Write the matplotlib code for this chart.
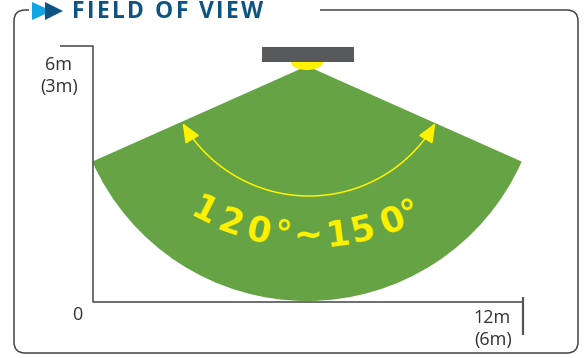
import numpy as np
import matplotlib
matplotlib.use("Agg")
import matplotlib.pyplot as plt
from matplotlib.patches import Wedge, Ellipse, Rectangle, Polygon, FancyBboxPatch, FancyArrowPatch
from matplotlib.path import Path

# chart content
title = "FIELD OF VIEW"
angle_text = "120°~150°"
y_label = ["6m", "(3m)"]
x_label = ["12m", "(6m)"]
origin_label = "0"
fov_min, fov_max = 120, 150          # degrees
sector_span = 132                    # drawn sector span, degrees

green = "#66a344"
yellow = "#fff200"
grey = "#555555"
dark_blue = "#0d5484"
light_blue = "#12a5e3"

fig = plt.figure(figsize=(5.87, 3.58), dpi=100)
ax = fig.add_axes([0, 0, 1, 1])
ax.set_xlim(0, 587)
ax.set_ylim(358, 0)
ax.axis("off")
renderer = fig.canvas.get_renderer()

# frame with gap for title
ax.add_patch(FancyBboxPatch((14, 10), 564, 343, boxstyle="round,pad=0,rounding_size=11",
                            fc="none", ec="#444444", lw=1.1))
ax.add_patch(Rectangle((29, 4), 291, 12, fc="white", ec="none", zorder=2))
ax.add_patch(Polygon([(32, 2), (52, 11), (32, 20)], closed=True, fc=light_blue, ec="none", zorder=3))
ax.add_patch(Polygon([(45, 2), (63, 11), (45, 20)], closed=True, fc=dark_blue, ec="none", zorder=3))

# title with letter spacing
x = 72
for ch in title:
    t = ax.text(x, 11.5, ch, fontsize=16.5, fontweight="bold", color=dark_blue,
                family="Open Sans", ha="left", va="center", zorder=3)
    w = t.get_window_extent(renderer).width
    if ch == " ":
        w = 6
    x += w + 2.4

# axes lines
ax.plot([60, 93, 93, 523], [46, 46, 302, 302], color=grey, lw=1.2, solid_capstyle="butt")
ax.plot([523, 523], [297, 335], color=grey, lw=1.6, solid_capstyle="butt")

lab = dict(fontsize=13, color="#333333", family="Open Sans", va="center")
ax.text(59, 65, y_label[0], ha="center", **lab)
ax.text(59, 87, y_label[1], ha="center", **lab)
ax.text(77, 315, origin_label, ha="center", **lab)
ax.text(511, 318, x_label[0], ha="right", **lab)
ax.text(512, 340, x_label[1], ha="right", **lab)

# detection sector
apex = (307, 66)
half = sector_span / 2
ax.add_patch(Wedge(apex, 235, 90 - half, 90 + half, fc=green, ec="none", zorder=1))

# sensor
ax.add_patch(Ellipse((307, 62), 32, 16, fc=yellow, ec="none", zorder=2))
ax.add_patch(Rectangle((262, 47), 92, 15, fc="#58595b", ec="none", zorder=3))

# arc with arrows
c = (309, 50)
r = 146
t = np.radians(np.linspace(150, 30, 80))
verts = np.column_stack([c[0] + r * np.cos(t), c[1] + r * np.sin(t)])
arc = FancyArrowPatch(path=Path(verts), arrowstyle="<|-|>,head_length=12,head_width=5",
                      mutation_scale=1, color=yellow, lw=1.1, shrinkA=0, shrinkB=0, zorder=4)
ax.add_patch(arc)

# curved angle text
tc = (308, 4)
tr = 233
dx = [-105, -78, -50, -25, 0, 30, 55, 85, 104]
for ch, d in zip(angle_text, dx):
    a = np.arcsin(d / tr)
    x = tc[0] + tr * np.sin(a)
    y = tc[1] + tr * np.cos(a)
    ax.text(x, y, ch, fontsize=25, fontweight="bold", color=yellow, family="DejaVu Sans",
            ha="center", va="center", rotation=np.degrees(a), rotation_mode="anchor", zorder=5)

fig.savefig("out.png", dpi=100)
